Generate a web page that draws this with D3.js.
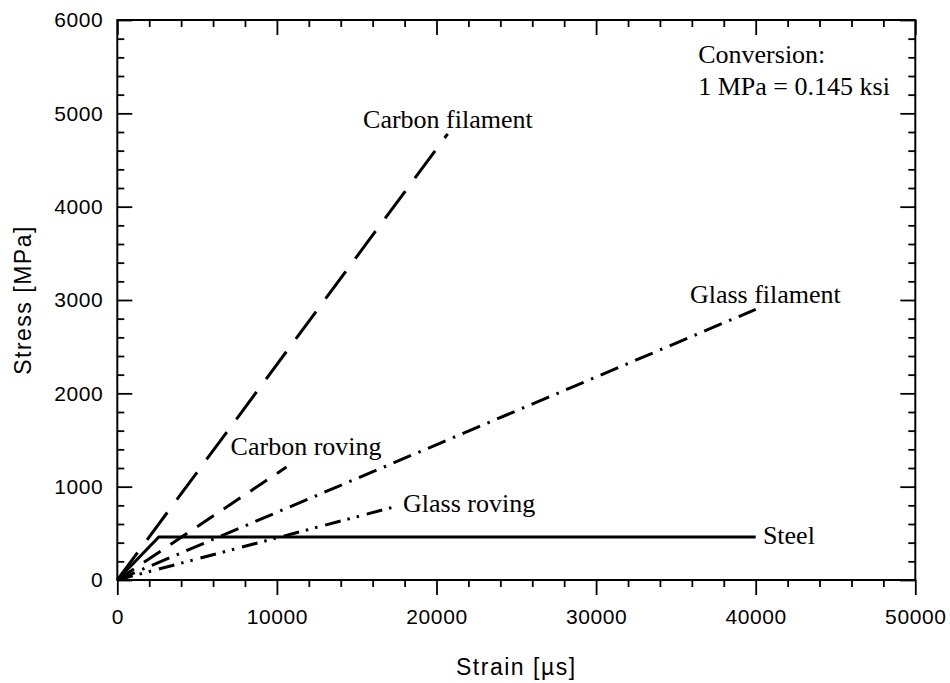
<!DOCTYPE html>
<html>
<head>
<meta charset="utf-8">
<script src="https://cdn.jsdelivr.net/npm/d3@7/dist/d3.min.js"></script>
<style>
  html, body { margin: 0; padding: 0; background: #fff; }
  svg { display: block; }
  .tick text { font-family: "Liberation Sans", Arial, sans-serif; font-size: 21px; letter-spacing: 0.6px; fill: #000; }
  .axis-title { font-family: "Liberation Sans", Arial, sans-serif; font-size: 23px; letter-spacing: 1.5px; fill: #000; }
  .note { font-family: "Liberation Serif", "Times New Roman", serif; font-size: 26px; fill: #000; }
</style>
</head>
<body>
<svg id="chart" width="950" height="683"></svg>
<script>
// Stress–strain curves of reinforcing materials (strain in µs, stress in MPa)
const carbonFilamentStrain = [0, 20700];
const carbonFilamentStress = [0, 4780];

const carbonRovingStrain = [0, 10600];
const carbonRovingStress = [0, 1210];

const glassFilamentStrain = [0, 40000];
const glassFilamentStress = [0, 2900];

const glassRovingStrain = [0, 17500];
const glassRovingStress = [0, 790];

const steelStrain = [0, 2600, 40000];
const steelStress = [0, 460, 460];

const xMajorTicks = [0, 10000, 20000, 30000, 40000, 50000];
const yMajorTicks = [0, 1000, 2000, 3000, 4000, 5000, 6000];

const seriesNames = ["Carbon filament", "Carbon roving", "Glass filament", "Glass roving", "Steel"];
// label anchors (data units: strain, stress)
const labelStrain = [15400, 7100, 35880, 17900, 40450];
const labelStress = [4843, 1339, 2968, 729, 386];

const noteLines = ["Conversion:", "1 MPa = 0.145 ksi"];
const noteStrain = 36400;
const noteStress = [5539, 5196];

const plotLeft = 117.3, plotRight = 915.3, plotTop = 20, plotBottom = 580;

const svg = d3.select("#chart");

const x = d3.scaleLinear().domain([0, 50000]).range([plotLeft, plotRight]);
const y = d3.scaleLinear().domain([0, 6000]).range([plotBottom, plotTop]);

const xMinorTicks = d3.range(0, 50001, 2000).filter(v => v % 10000 !== 0);
const yMinorTicks = d3.range(0, 6001, 200).filter(v => v % 1000 !== 0);

function styleAxis(g) {
  g.select(".domain").remove();
  g.selectAll(".tick line").attr("stroke", "#000").attr("stroke-width", 1.8);
}

// bottom axis: ticks point outward
svg.append("g").attr("transform", `translate(0,${plotBottom})`)
  .call(d3.axisBottom(x).tickValues(xMajorTicks).tickSize(15).tickPadding(14).tickFormat(d3.format("d")))
  .call(styleAxis);
svg.append("g").attr("transform", `translate(0,${plotBottom})`)
  .call(d3.axisBottom(x).tickValues(xMinorTicks).tickSize(7).tickFormat(""))
  .call(styleAxis);

// top axis: inward ticks, no labels
svg.append("g").attr("transform", `translate(0,${plotTop})`)
  .call(d3.axisTop(x).tickValues(xMajorTicks).tickSize(-15).tickFormat(""))
  .call(styleAxis);
svg.append("g").attr("transform", `translate(0,${plotTop})`)
  .call(d3.axisTop(x).tickValues(xMinorTicks).tickSize(-7).tickFormat(""))
  .call(styleAxis);

// left axis: inward ticks with labels
svg.append("g").attr("transform", `translate(${plotLeft},0)`)
  .call(d3.axisLeft(y).tickValues(yMajorTicks).tickSize(-15).tickPadding(14).tickFormat(d3.format("d")))
  .call(styleAxis);
svg.append("g").attr("transform", `translate(${plotLeft},0)`)
  .call(d3.axisLeft(y).tickValues(yMinorTicks).tickSize(-7).tickFormat(""))
  .call(styleAxis);

// right axis: inward ticks, no labels
svg.append("g").attr("transform", `translate(${plotRight},0)`)
  .call(d3.axisRight(y).tickValues(yMajorTicks).tickSize(-15).tickFormat(""))
  .call(styleAxis);
svg.append("g").attr("transform", `translate(${plotRight},0)`)
  .call(d3.axisRight(y).tickValues(yMinorTicks).tickSize(-7).tickFormat(""))
  .call(styleAxis);

// frame
svg.append("rect")
  .attr("x", plotLeft).attr("y", plotTop)
  .attr("width", plotRight - plotLeft).attr("height", plotBottom - plotTop)
  .attr("fill", "none").attr("stroke", "#000").attr("stroke-width", 2);

// axis titles
svg.append("text").attr("class", "axis-title")
  .attr("x", (plotLeft + plotRight) / 2).attr("y", 675)
  .attr("text-anchor", "middle")
  .text("Strain [µs]");
svg.append("text").attr("class", "axis-title")
  .attr("transform", `translate(31,${(plotTop + plotBottom) / 2}) rotate(-90)`)
  .attr("text-anchor", "middle")
  .text("Stress [MPa]");

// curves
const curves = [
  { xs: carbonFilamentStrain, ys: carbonFilamentStress, dash: "34,16" },
  { xs: carbonRovingStrain, ys: carbonRovingStress, dash: "20,12" },
  { xs: glassFilamentStrain, ys: glassFilamentStress, dash: "19,8,2.5,8" },
  { xs: glassRovingStrain, ys: glassRovingStress, dash: "16,7,2.5,7,2.5,8" },
  { xs: steelStrain, ys: steelStress, dash: null }
];

const line = d3.line().x(d => x(d[0])).y(d => y(d[1]));

const plot = svg.append("g");
curves.forEach(c => {
  const pts = c.xs.map((v, i) => [v, c.ys[i]]);
  plot.append("path")
    .attr("d", line(pts))
    .attr("fill", "none")
    .attr("stroke", "#000")
    .attr("stroke-width", 3)
    .attr("stroke-linejoin", "miter")
    .attr("stroke-dasharray", c.dash);
});

// curve labels
seriesNames.forEach((name, i) => {
  svg.append("text").attr("class", "note")
    .attr("x", x(labelStrain[i])).attr("y", y(labelStress[i]))
    .text(name);
});

// unit conversion note
noteLines.forEach((t, i) => {
  svg.append("text").attr("class", "note")
    .attr("x", x(noteStrain)).attr("y", y(noteStress[i]))
    .text(t);
});
</script>
</body>
</html>
